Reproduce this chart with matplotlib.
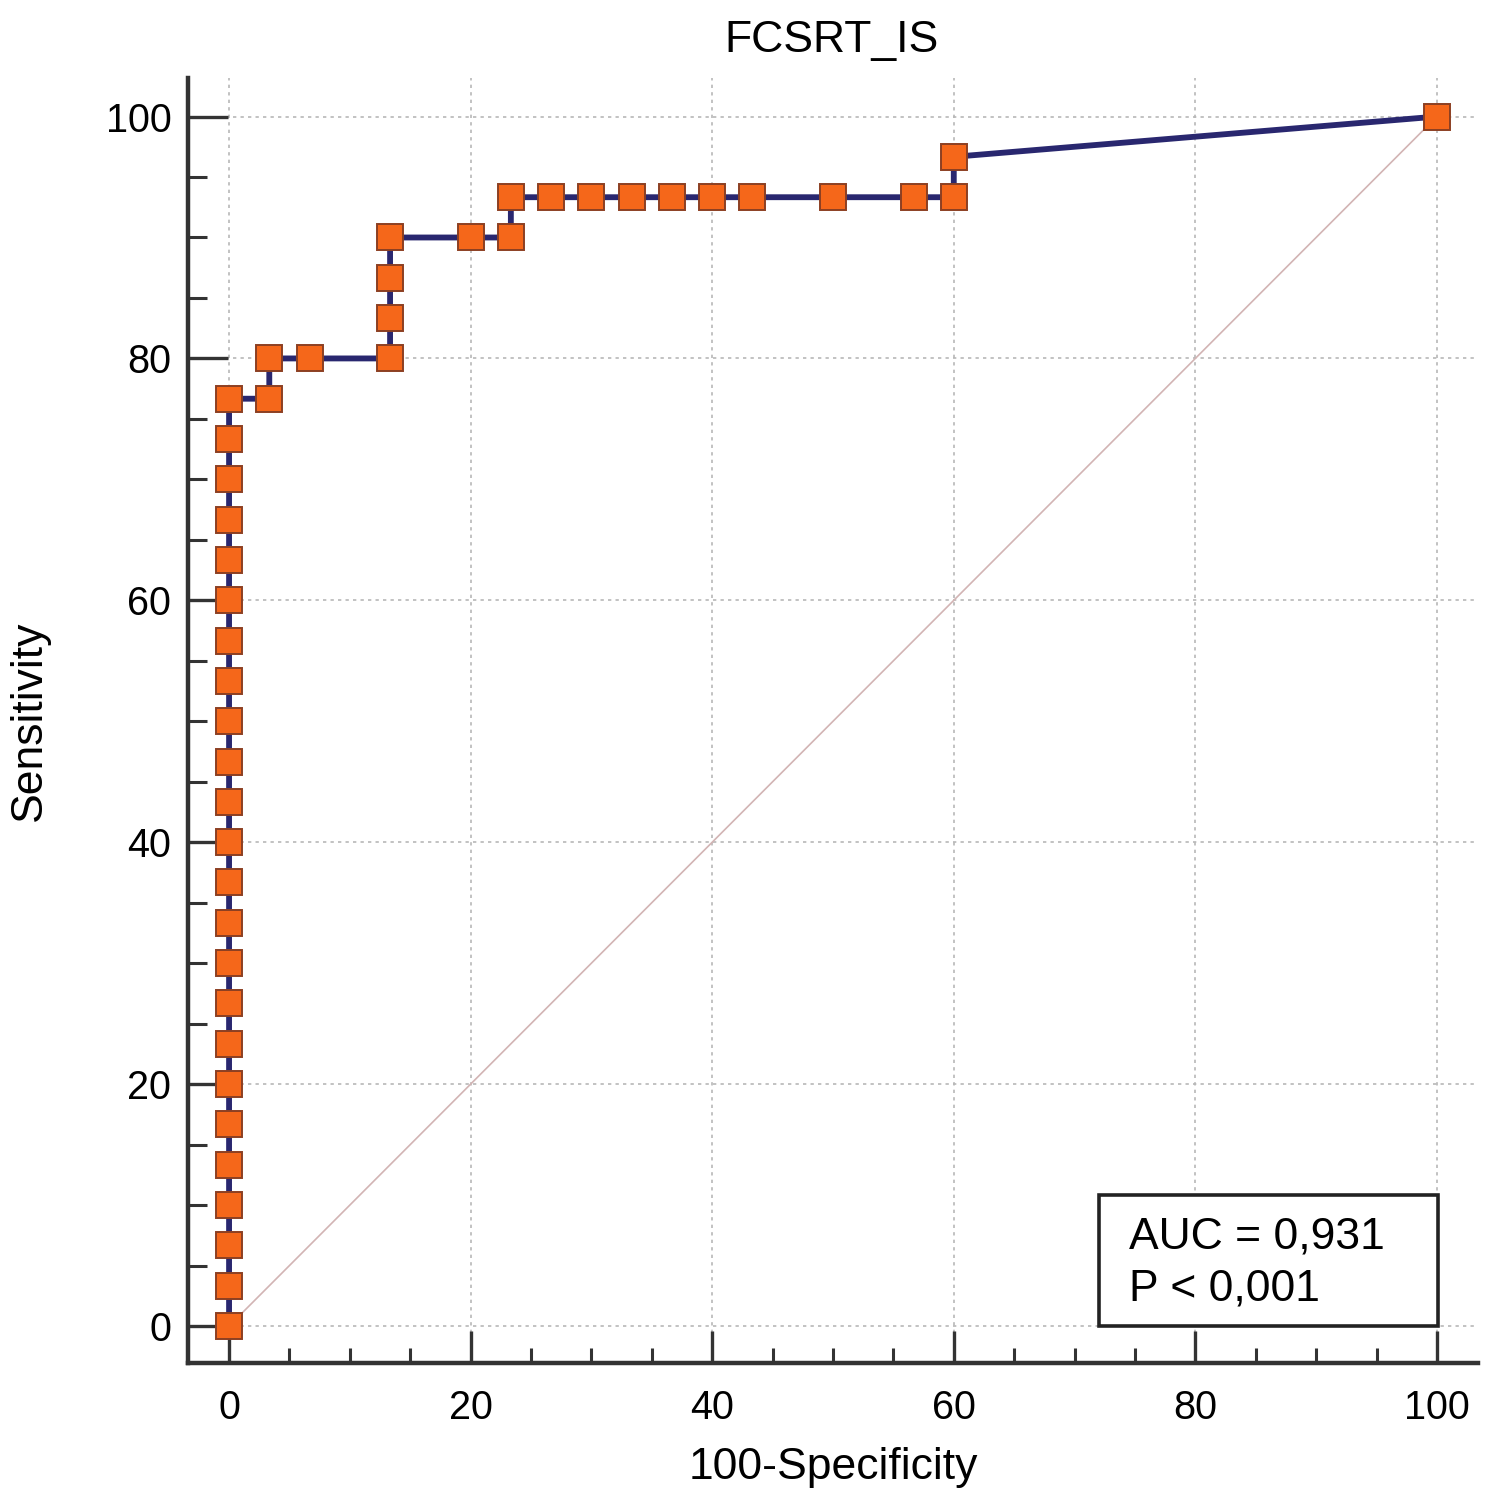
import matplotlib
matplotlib.use("Agg")
import matplotlib.pyplot as plt
from matplotlib.patches import Rectangle
from matplotlib.ticker import MultipleLocator

plt.rcParams['font.family'] = ['Liberation Sans', 'DejaVu Sans']

title = "FCSRT_IS"
xlabel = "100-Specificity"
ylabel = "Sensitivity"
auc_text = "AUC = 0,931\nP < 0,001"

fpr = [0, 0, 0, 0, 0, 0, 0, 0, 0, 0, 0, 0, 0, 0, 0, 0, 0, 0, 0, 0, 0, 0, 0, 0,
       3.33, 3.33, 6.67, 13.33, 13.33, 13.33, 13.33, 20.0, 23.33, 23.33,
       26.67, 30.0, 33.33, 36.67, 40.0, 43.33, 50.0, 56.67, 60.0, 60.0, 100.0]
tpr = [0, 3.33, 6.67, 10.0, 13.33, 16.67, 20.0, 23.33, 26.67, 30.0, 33.33, 36.67,
       40.0, 43.33, 46.67, 50.0, 53.33, 56.67, 60.0, 63.33, 66.67, 70.0, 73.33, 76.67,
       76.67, 80.0, 80.0, 80.0, 83.33, 86.67, 90.0, 90.0, 90.0, 93.33,
       93.33, 93.33, 93.33, 93.33, 93.33, 93.33, 93.33, 93.33, 93.33, 96.67, 100.0]
diag = [0, 100]
ticks = [0, 20, 40, 60, 80, 100]

fig = plt.figure(figsize=(15.04, 14.97), dpi=100)
ax = fig.add_axes([0.125, 0.0895, 0.8577, 0.8585])
ax.set_xlim(-3.4, 103.4)
ax.set_ylim(-3.06, 103.2)

ax.plot(diag, diag, color='#d2b4b4', lw=1.2, zorder=2)
ax.plot(fpr, tpr, color='#29276f', lw=4.2, marker='s', markersize=18.5,
        markerfacecolor='#f5671a', markeredgecolor='#8c3f22', markeredgewidth=1.4,
        zorder=3, clip_on=False)

ax.set_xticks(ticks)
ax.set_yticks(ticks)
ax.xaxis.set_minor_locator(MultipleLocator(5))
ax.yaxis.set_minor_locator(MultipleLocator(5))
ax.grid(True, which='major', color='#b8b8b8', linestyle=(0, (2, 2.5)), lw=1.2, zorder=1)

for s in ['top', 'right']:
    ax.spines[s].set_visible(False)
for s in ['left', 'bottom']:
    ax.spines[s].set_linewidth(3.2)
    ax.spines[s].set_color('#333333')

ax.tick_params(axis='y', which='major', direction='in', length=29, width=2.4,
               color='#333333', labelsize=28.5, pad=12)
ax.tick_params(axis='y', which='minor', direction='in', length=14, width=2.2, color='#333333')
ax.tick_params(axis='x', which='major', direction='in', length=23, width=2.4,
               color='#333333', labelsize=28.5, pad=19)
ax.tick_params(axis='x', which='minor', direction='in', length=11, width=2.2, color='#333333')

ax.set_xlabel(xlabel, fontsize=32, labelpad=14)
ax.set_ylabel(ylabel, fontsize=32, labelpad=40)
fig.text(0.553, 0.973, title, fontsize=32, ha='center', va='center')

rect = Rectangle((72.0, 0.0), 28.1, 10.8, facecolor='white', edgecolor='#222222',
                 lw=2.6, zorder=4)
ax.add_patch(rect)
ax.text(74.5, 5.2, auc_text, fontsize=32, ha='left', va='center', zorder=5,
        linespacing=1.32)

fig.savefig("out.png", dpi=100)
